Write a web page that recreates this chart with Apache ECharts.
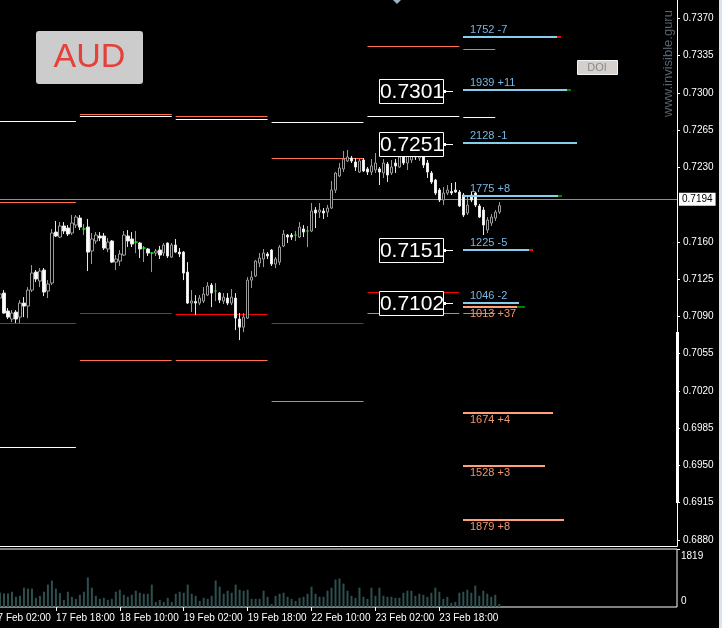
<!DOCTYPE html>
<html>
<head>
<meta charset="utf-8">
<title>AUD H1</title>
<script src="https://cdn.jsdelivr.net/npm/echarts@6/dist/echarts.min.js"></script>
<style>
  html, body { margin: 0; padding: 0; background: #000; }
  #chart { width: 722px; height: 628px; }
</style>
</head>
<body>
<div id="chart"></div>
<script>
// H1 candles: [open, close, low, high]
const candles = [
  [0.71072, 0.71110, 0.71053, 0.71157], [0.71119, 0.70931, 0.70926, 0.71147],
  [0.70950, 0.70893, 0.70875, 0.70978], [0.70875, 0.70931, 0.70846, 0.70959],
  [0.70940, 0.70875, 0.70837, 0.70959], [0.70893, 0.71025, 0.70837, 0.71053],
  [0.71025, 0.70997, 0.70893, 0.71081], [0.70997, 0.71147, 0.70884, 0.71175],
  [0.71147, 0.71307, 0.71128, 0.71382], [0.71316, 0.71251, 0.71222, 0.71335],
  [0.71232, 0.71326, 0.71175, 0.71354], [0.71335, 0.71128, 0.71091, 0.71354],
  [0.71138, 0.71204, 0.71072, 0.71241], [0.71213, 0.71683, 0.71194, 0.71721],
  [0.71692, 0.71655, 0.71645, 0.71796], [0.71645, 0.71749, 0.71636, 0.71786],
  [0.71749, 0.71702, 0.71674, 0.71786], [0.71730, 0.71674, 0.71655, 0.71758],
  [0.71683, 0.71777, 0.71664, 0.71852], [0.71758, 0.71833, 0.71730, 0.71852],
  [0.71824, 0.71739, 0.71711, 0.71852], [0.71721, 0.71721, 0.71664, 0.71768],
  [0.71739, 0.71504, 0.71326, 0.71815], [0.71514, 0.71627, 0.71392, 0.71683],
  [0.71608, 0.71664, 0.71580, 0.71692], [0.71655, 0.71636, 0.71608, 0.71692],
  [0.71655, 0.71542, 0.71523, 0.71683], [0.71533, 0.71598, 0.71504, 0.71636],
  [0.71608, 0.71410, 0.71401, 0.71617], [0.71410, 0.71439, 0.71335, 0.71476],
  [0.71420, 0.71486, 0.71373, 0.71523], [0.71476, 0.71664, 0.71467, 0.71702],
  [0.71655, 0.71608, 0.71551, 0.71711], [0.71627, 0.71580, 0.71551, 0.71692],
  [0.71598, 0.71598, 0.71495, 0.71702], [0.71589, 0.71533, 0.71448, 0.71598],
  [0.71542, 0.71542, 0.71410, 0.71561], [0.71533, 0.71495, 0.71467, 0.71542],
  [0.71495, 0.71495, 0.71316, 0.71504], [0.71495, 0.71514, 0.71467, 0.71533],
  [0.71523, 0.71476, 0.71439, 0.71561], [0.71495, 0.71570, 0.71467, 0.71589],
  [0.71589, 0.71467, 0.71448, 0.71595], [0.71457, 0.71570, 0.71448, 0.71589],
  [0.71570, 0.71504, 0.71495, 0.71627], [0.71504, 0.71486, 0.71457, 0.71542],
  [0.71504, 0.71307, 0.71241, 0.71514], [0.71316, 0.71025, 0.71016, 0.71410],
  [0.71025, 0.71044, 0.70940, 0.71147], [0.71039, 0.71025, 0.70912, 0.71100],
  [0.71025, 0.71072, 0.71006, 0.71100], [0.71044, 0.71110, 0.71025, 0.71175],
  [0.71100, 0.71185, 0.71091, 0.71222], [0.71194, 0.71119, 0.70987, 0.71213],
  [0.71138, 0.71138, 0.71044, 0.71213], [0.71119, 0.71053, 0.71025, 0.71128],
  [0.71044, 0.71081, 0.71016, 0.71119], [0.71072, 0.71025, 0.71006, 0.71119],
  [0.71025, 0.71081, 0.71006, 0.71157], [0.71072, 0.70884, 0.70771, 0.71119],
  [0.70875, 0.70799, 0.70677, 0.70931], [0.70799, 0.70893, 0.70752, 0.70931],
  [0.70884, 0.71241, 0.70875, 0.71269], [0.71241, 0.71269, 0.71166, 0.71326],
  [0.71279, 0.71420, 0.71269, 0.71429], [0.71401, 0.71448, 0.71363, 0.71495],
  [0.71439, 0.71495, 0.71363, 0.71533], [0.71486, 0.71467, 0.71439, 0.71504],
  [0.71523, 0.71392, 0.71373, 0.71533], [0.71392, 0.71439, 0.71354, 0.71457],
  [0.71410, 0.71551, 0.71382, 0.71570], [0.71561, 0.71674, 0.71551, 0.71711],
  [0.71664, 0.71645, 0.71589, 0.71674], [0.71664, 0.71645, 0.71617, 0.71683],
  [0.71664, 0.71664, 0.71608, 0.71702], [0.71645, 0.71739, 0.71636, 0.71786],
  [0.71721, 0.71692, 0.71645, 0.71758], [0.71702, 0.71702, 0.71551, 0.71749],
  [0.71702, 0.71890, 0.71692, 0.71965], [0.71899, 0.71871, 0.71730, 0.71927],
  [0.71880, 0.71899, 0.71824, 0.71965], [0.71890, 0.71871, 0.71815, 0.71918],
  [0.71880, 0.71918, 0.71833, 0.71946], [0.71918, 0.72087, 0.71909, 0.72172],
  [0.72087, 0.72247, 0.72059, 0.72256], [0.72219, 0.72294, 0.72209, 0.72341],
  [0.72285, 0.72378, 0.72256, 0.72454], [0.72360, 0.72397, 0.72350, 0.72463],
  [0.72388, 0.72360, 0.72341, 0.72407], [0.72350, 0.72303, 0.72266, 0.72388],
  [0.72256, 0.72360, 0.72247, 0.72388], [0.72369, 0.72266, 0.72256, 0.72388],
  [0.72285, 0.72256, 0.72228, 0.72303], [0.72256, 0.72313, 0.72228, 0.72378],
  [0.72275, 0.72341, 0.72247, 0.72435], [0.72285, 0.72256, 0.72134, 0.72303],
  [0.72247, 0.72341, 0.72200, 0.72378], [0.72331, 0.72228, 0.72162, 0.72350],
  [0.72247, 0.72303, 0.72228, 0.72369], [0.72341, 0.72313, 0.72247, 0.72378],
  [0.72303, 0.72397, 0.72294, 0.72435], [0.72397, 0.72341, 0.72322, 0.72435],
  [0.72341, 0.72407, 0.72275, 0.72444], [0.72369, 0.72463, 0.72341, 0.72482],
  [0.72463, 0.72397, 0.72369, 0.72472], [0.72388, 0.72482, 0.72360, 0.72491],
  [0.72482, 0.72322, 0.72294, 0.72491], [0.72341, 0.72256, 0.72200, 0.72369],
  [0.72247, 0.72162, 0.72144, 0.72266], [0.72181, 0.72059, 0.72040, 0.72191],
  [0.72087, 0.71993, 0.71974, 0.72106], [0.71993, 0.72059, 0.71946, 0.72115],
  [0.72059, 0.72087, 0.72040, 0.72134], [0.72073, 0.72059, 0.72040, 0.72153],
  [0.72087, 0.72068, 0.72059, 0.72162], [0.72068, 0.71937, 0.71927, 0.72087],
  [0.72040, 0.71852, 0.71833, 0.72059], [0.71871, 0.71946, 0.71852, 0.72040],
  [0.72040, 0.71993, 0.71974, 0.72068], [0.72059, 0.71946, 0.71927, 0.72068],
  [0.71937, 0.71833, 0.71824, 0.71956], [0.71899, 0.71758, 0.71664, 0.71927],
  [0.71711, 0.71805, 0.71683, 0.71833], [0.71777, 0.71833, 0.71749, 0.71862],
  [0.71824, 0.71880, 0.71796, 0.71899], [0.71880, 0.71940, 0.71862, 0.71974]
];
// bars the indicator paints lime
const greenBars = [21, 34, 36, 38, 54, 74, 77];

const volumes = [
  458, 426, 426, 479, 319, 351, 606, 575, 575, 287,
  351, 479, 702, 830, 575, 436, 223, 479, 319, 255,
  383, 479, 926, 606, 351, 255, 287, 223, 255, 479,
  543, 383, 319, 383, 511, 447, 415, 415, 702, 160,
  223, 160, 287, 160, 415, 479, 447, 702, 415, 351,
  192, 287, 255, 351, 830, 638, 415, 511, 447, 702,
  543, 511, 543, 255, 255, 255, 511, 319, 96, 351,
  415, 447, 319, 255, 192, 287, 319, 415, 638, 415,
  319, 319, 511, 606, 862, 894, 734, 511, 351, 287,
  606, 319, 255, 606, 351, 606, 351, 319, 319, 287,
  287, 447, 511, 511, 351, 415, 383, 319, 447, 606,
  479, 255, 319, 128, 160, 447, 479, 543, 447, 670,
  351, 511, 415, 319, 383, 96
];
const volumeMax = 1819;

const tickLabels = ['17 Feb 02:00', '17 Feb 18:00', '18 Feb 10:00', '19 Feb 02:00',
  '19 Feb 18:00', '22 Feb 10:00', '23 Feb 02:00', '23 Feb 18:00'];
const priceTicks = ['0.7370', '0.7335', '0.7300', '0.7265', '0.7230', '0.7160', '0.7125',
  '0.7090', '0.7055', '0.7020', '0.6985', '0.6950', '0.6915', '0.6880'];
const currentPrice = 0.7194;

// daily levels: [first bar, last bar, price]
const whiteLevels = [[-2, 19, 0.72733], [-2, 19, 0.69673], [20, 43, 0.72787], [44, 67, 0.72751],
  [68, 91, 0.72723], [92, 115, 0.72779], [116, 124, 0.72770]];
const coralLevels = [[-2, 19, 0.71972], [20, 43, 0.72798], [20, 43, 0.70490], [44, 67, 0.72782],
  [44, 67, 0.70490], [68, 91, 0.72385], [68, 91, 0.70105], [92, 115, 0.73440], [92, 115, 0.70929],
  [116, 124, 0.73409], [116, 124, 0.70929]];
const redLevels = [[-2, 19, 0.70835], [20, 43, 0.70929], [44, 67, 0.70920], [68, 91, 0.70835],
  [92, 115, 0.71126]];

// option open interest
const callStrikes = [0.7350, 0.7300, 0.7250, 0.7200, 0.7150, 0.7100];
const callOI = [1752, 1939, 2128, 1775, 1225, 1046];
const callChange = [-7, 11, -1, 8, -5, -2];
const putStrikes = [0.7100, 0.7000, 0.6950, 0.6900];
const putOI = [1013, 1674, 1528, 1879];
const putChange = [37, 4, 3, 8];

const priceTags = [0.7301, 0.7251, 0.7151, 0.7102];

const LEAD = 2;          // empty slots left of the first bar
const SLOTS = 172;
const Y_MIN = 0.68743, Y_MAX = 0.73872;
const OI_BAR = 116, OI_SCALE = 0.0535, TAG_BAR = 113;
const FONT = '"Liberation Sans", Arial, sans-serif';

const categories = Array.from({ length: SLOTS }, (_, k) => String(k));
const tickValues = priceTicks.map(Number);

function segmentSeries(levels, color) {
  return {
    type: 'custom', z: 1, silent: true,
    data: levels.map(l => [l[0] + LEAD, l[1] + LEAD, l[2]]),
    encode: { x: [0, 1], y: 2 },
    renderItem: (params, api) => {
      const a = api.coord([api.value(0), api.value(2)]);
      const b = api.coord([api.value(1), api.value(2)]);
      const y = Math.round(a[1]) + 0.5;
      return { type: 'line', shape: { x1: a[0], y1: y, x2: b[0], y2: y }, style: { stroke: color, lineWidth: 1 } };
    }
  };
}

function oiSeries(strikes, counts, changes, lineColor, textColor, lineDy, textDy, tipFrom) {
  return {
    type: 'custom', z: 4, silent: true,
    data: strikes.map((s, k) => [OI_BAR + LEAD, s, counts[k], changes[k]]),
    encode: { x: 0, y: 1 },
    renderItem: (params, api) => {
      const p = api.coord([api.value(0), api.value(1)]);
      const x0 = Math.round(p[0]);
      const y = Math.round(p[1]) + lineDy;
      const len = Math.round(api.value(2) * OI_SCALE);
      const ch = api.value(3);
      const kids = [
        { type: 'rect', shape: { x: x0, y: y - 1, width: len, height: 2 }, style: { fill: lineColor } },
        { type: 'text', style: { x: x0 + 7, y: y + textDy, text: api.value(2) + ' ' + (ch > 0 ? '+' : '') + ch,
          fill: textColor, font: '11px ' + FONT, verticalAlign: 'middle' } }
      ];
      const abs = Math.abs(ch);
      if (abs >= tipFrom) {
        kids.push({ type: 'rect', shape: { x: x0 + len, y: y - 1, width: abs > 20 ? 8 : 4, height: 2 },
          style: { fill: ch > 0 ? '#008000' : '#ff0000' } });
      }
      return { type: 'group', children: kids };
    }
  };
}

const greenStyle = { color: '#00ff00', color0: '#00ff00', borderColor: '#00ff00', borderColor0: '#00ff00' };

const option = {
  backgroundColor: '#000',
  animation: false,
  textStyle: { fontFamily: FONT },
  grid: [
    { left: -10, top: 0, width: 687, height: 546, outerBoundsMode: 'none', containLabel: false },
    { left: -10, top: 549, width: 687, height: 58, outerBoundsMode: 'none', containLabel: false,
      show: true, borderColor: '#fff', borderWidth: 1 }
  ],
  xAxis: [
    {
      type: 'category', gridIndex: 0, data: categories,
      axisLine: { show: true, lineStyle: { color: '#fff' } },
      axisTick: { show: false }, axisLabel: { show: false }, splitLine: { show: false }
    },
    {
      type: 'category', gridIndex: 1, data: categories,
      axisLine: { show: false },
      axisTick: {
        show: true, alignWithLabel: true, length: 4, lineStyle: { color: '#fff' },
        interval: i => i % 16 === 0 && i / 16 < tickLabels.length
      },
      axisLabel: {
        show: true, color: '#fff', fontSize: 10, align: 'left', margin: 6,
        interval: i => i % 16 === 0 && i / 16 < tickLabels.length,
        formatter: (v, i) => tickLabels[i / 16] || ''
      },
      splitLine: { show: false }
    }
  ],
  yAxis: [
    {
      type: 'value', gridIndex: 0, position: 'right', min: Y_MIN, max: Y_MAX, scale: true,
      axisLine: { show: true, lineStyle: { color: '#fff' } },
      axisTick: { show: true, length: 3, customValues: tickValues, lineStyle: { color: '#fff' } },
      axisLabel: { customValues: tickValues, formatter: v => v.toFixed(4), color: '#fff', fontSize: 10, margin: 6 },
      splitLine: { show: false }
    },
    {
      type: 'value', gridIndex: 1, position: 'right', min: 0, max: volumeMax,
      axisLine: { show: false },
      axisTick: { show: true, length: 3, customValues: [volumeMax], lineStyle: { color: '#fff' } },
      axisLabel: {
        customValues: [0, volumeMax], margin: 4,
        formatter: v => v === 0 ? '{lo|0}' : '{hi|' + v + '}',
        rich: {
          hi: { color: '#fff', fontSize: 10, padding: [14, 0, 0, 0] },
          lo: { color: '#fff', fontSize: 10, padding: [0, 0, 12, 0] }
        }
      },
      splitLine: { show: false }
    }
  ],
  series: [
    segmentSeries(whiteLevels, '#ffffff'),
    segmentSeries(coralLevels, '#ff6f4e'),
    segmentSeries(redLevels, '#ff0000'),
    {
      type: 'candlestick', xAxisIndex: 0, yAxisIndex: 0, z: 2, barWidth: 3,
      data: candles.map((c, i) => greenBars.includes(i)
        ? { value: [i + LEAD].concat(c), itemStyle: greenStyle }
        : [i + LEAD].concat(c)),
      encode: { x: 0, y: [1, 2, 3, 4] },
      itemStyle: { color: '#000', color0: '#ffffff', borderColor: '#9a9a9a', borderColor0: '#e6e6e6', borderWidth: 1 },
      markLine: {
        silent: true, symbol: ['none', 'none'], z: 1,
        lineStyle: { color: '#8a9099', width: 1, type: 'solid' },
        label: {
          position: 'end', distance: 2, formatter: currentPrice.toFixed(4),
          backgroundColor: '#fff', color: '#000', fontSize: 10, padding: [2, 3, 1, 3]
        },
        data: [{ yAxis: currentPrice }]
      }
    },
    oiSeries(callStrikes, callOI, callChange, '#87ceeb', '#78b6e4', -3, -7, 5),
    oiSeries(putStrikes, putOI, putChange, '#ffa07a', '#f4956f', 1, 7, 10),
    {
      type: 'custom', z: 6, silent: true,
      data: priceTags.map(p => [TAG_BAR + LEAD, p]),
      encode: { x: 0, y: 1 },
      renderItem: (params, api) => {
        const p = api.coord([api.value(0), api.value(1)]);
        const x = Math.round(p[0]) + 2, y = Math.round(p[1]) - 1;
        return {
          type: 'group', children: [
            { type: 'line', shape: { x1: x - 10, y1: y + 0.5, x2: x, y2: y + 0.5 }, style: { stroke: '#fff', lineWidth: 1 } },
            { type: 'rect', shape: { x: x - 73.5, y: y - 11.5, width: 64, height: 24 }, style: { fill: '#000', stroke: '#fff', lineWidth: 1 } },
            { type: 'rect', shape: { x: x - 10, y: y - 1, width: 3, height: 3 }, style: { fill: '#fff' } },
            { type: 'text', style: { x: x - 41, y: y + 1, text: api.value(1).toFixed(4), fill: '#fff',
              font: '21px ' + FONT, align: 'center', verticalAlign: 'middle' } }
          ]
        };
      }
    },
    {
      type: 'bar', xAxisIndex: 1, yAxisIndex: 1, barWidth: 2,
      data: volumes.map((v, i) => [i + LEAD, v]),
      encode: { x: 0, y: 1 },
      itemStyle: { color: '#2f4f4f' }
    }
  ],
  graphic: [
    { type: 'rect', shape: { x: 36, y: 31, width: 107, height: 53, r: 3 }, style: { fill: '#cccccc' } },
    { type: 'text', x: 89.5, y: 58, style: { text: 'AUD', fill: '#e5403a', font: '34px ' + FONT, align: 'center', verticalAlign: 'middle' } },
    { type: 'rect', shape: { x: 577.5, y: 60.5, width: 40, height: 14 }, style: { fill: '#d4d1cc', stroke: '#f2f2f2', lineWidth: 1 } },
    { type: 'text', x: 597, y: 68, style: { text: 'DOI', fill: '#8a8a8a', font: '11px ' + FONT, align: 'center', verticalAlign: 'middle' } },
    { type: 'text', x: 668, y: 117, rotation: Math.PI / 2,
      style: { text: 'www.invisible.guru', fill: '#56636f', font: '13px ' + FONT, align: 'left', verticalAlign: 'middle' } },
    { type: 'polygon', shape: { points: [[393, 0], [401, 0], [397, 4]] }, style: { fill: '#9fb0c2' } },
    { type: 'rect', shape: { x: 676, y: 332, width: 3, height: 171 }, style: { fill: '#fff' } },
    { type: 'rect', shape: { x: 719, y: 0, width: 3, height: 628 }, style: { fill: '#dde3ea' } }
  ]
};

const chart = echarts.init(document.getElementById('chart'));
chart.setOption(option);
</script>
</body>
</html>
